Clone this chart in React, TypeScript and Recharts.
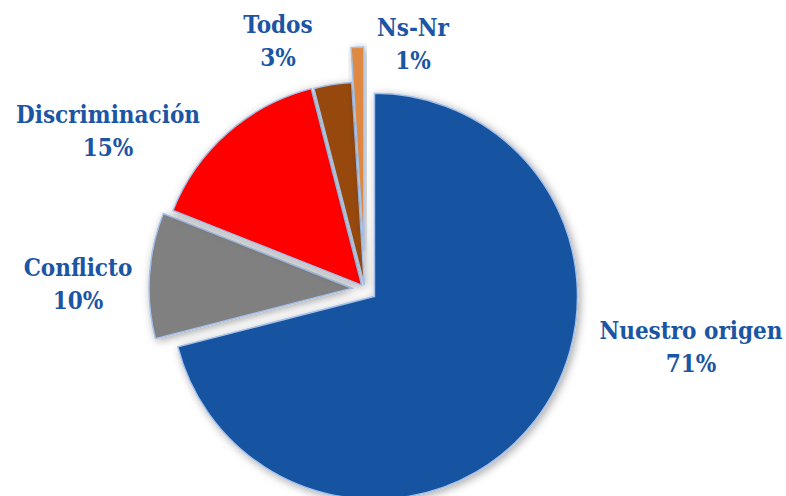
import React from 'react';
import { PieChart, Pie, Cell } from 'recharts';

// Datos
const categories = ['Nuestro origen', 'Conflicto', 'Discriminación', 'Todos', 'Ns-Nr'];
const values = [71, 10, 15, 3, 1];

const colors = ['#1652A1', '#808080', '#FF0000', '#974807', '#DE8842'];
// desplazamiento de cada porción (explosión)
const explode = [12, 13, 5, 4, 39];
// posición de las etiquetas (centro, línea base de la primera línea)
const labelPos = [
    [691, 339],
    [78, 276],
    [108, 123],
    [278, 33],
    [413, 36]
];

const data = categories.map((name, i) => ({ name, value: values[i] }));
const total = values.reduce((a, b) => a + b, 0);

const START = 90;
const CX = 365;
const CY = 289;

const offsetFor = (index: number) => {
    let start = START;
    for (let i = 0; i < index; i++) start -= (values[i] / total) * 360;
    const mid = start - ((values[index] / total) * 360) / 2;
    const rad = (mid * Math.PI) / 180;
    return {
        dx: explode[index] * Math.cos(rad),
        dy: -explode[index] * Math.sin(rad)
    };
};

const renderLabel = (props: any) => {
    const { index, name, percent } = props;
    const [x, y] = labelPos[index];
    return (
        <text
            x={x}
            y={y}
            textAnchor="middle"
            fill="#1B55A4"
            style={{ fontFamily: '"DejaVu Serif Condensed", "DejaVu Serif", serif', fontSize: 24, fontWeight: 700 }}
        >
            <tspan x={x} y={y}>{name}</tspan>
            <tspan x={x} y={y + 33}>{`${Math.round(percent * 100)}%`}</tspan>
        </text>
    );
};

const App: React.FC = () => {
    return (
        <div style={{ position: 'absolute', left: 0, top: 0, width: 786, height: 496, background: '#fff' }}>
            <svg width={0} height={0} style={{ position: 'absolute' }}>
                <defs>
                    <filter id="sliceShadow" x="-20%" y="-20%" width="140%" height="140%">
                        <feDropShadow dx={2} dy={2} stdDeviation={4} floodColor="#000" floodOpacity={0.35} />
                    </filter>
                </defs>
            </svg>
            <PieChart width={786} height={496} margin={{ top: 0, right: 0, bottom: 0, left: 0 }}>
                <Pie
                    data={data}
                    dataKey="value"
                    nameKey="name"
                    cx={CX}
                    cy={CY}
                    outerRadius={203}
                    startAngle={START}
                    endAngle={START - 360}
                    stroke="#A4BFE8"
                    strokeWidth={1.5}
                    label={renderLabel}
                    labelLine={false}
                    isAnimationActive={false}
                >
                    {data.map((_entry, index) => {
                        const { dx, dy } = offsetFor(index);
                        return (
                            <Cell
                                key={`cell-${index}`}
                                fill={colors[index]}
                                transform={`translate(${dx.toFixed(2)}, ${dy.toFixed(2)})`}
                                filter="url(#sliceShadow)"
                            />
                        );
                    })}
                </Pie>
            </PieChart>
        </div>
    );
};

export default App;
